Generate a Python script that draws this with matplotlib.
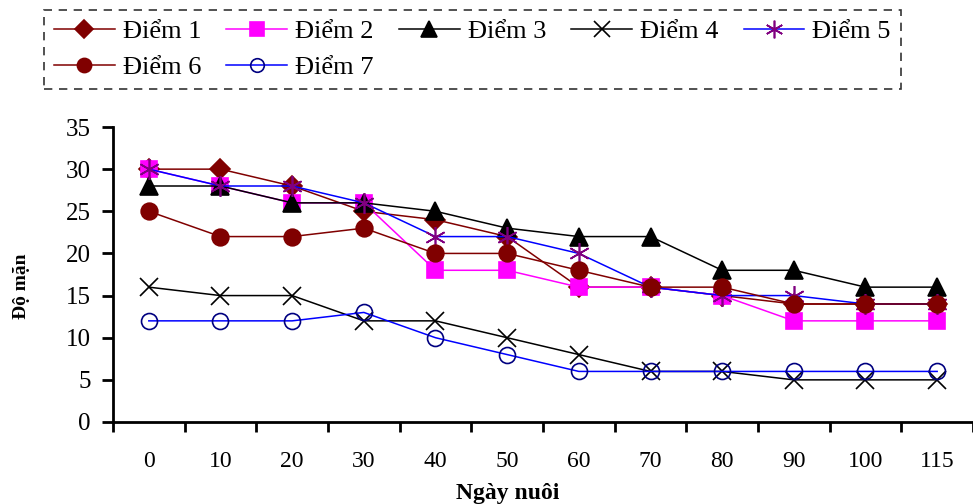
import numpy as np
import matplotlib.pyplot as plt

## Daten
ngay = ['0', '10', '20', '30', '40', '50', '60', '70', '80', '90', '100', '115']

diem_1 = [30, 30, 28, 25, 24, 22, 16, 16, 15, 14, 14, 14]
diem_2 = [30, 28, 26, 26, 18, 18, 16, 16, 15, 12, 12, 12]
diem_3 = [28, 28, 26, 26, 25, 23, 22, 22, 18, 18, 16, 16]
diem_4 = [16, 15, 15, 12, 12, 10, 8, 6, 6, 5, 5, 5]
diem_5 = [30, 28, 28, 26, 22, 22, 20, 16, 15, 15, 14, 14]
diem_6 = [25, 22, 22, 23, 20, 20, 18, 16, 16, 14, 14, 14]
diem_7 = [12, 12, 12, 13, 10, 8, 6, 6, 6, 6, 6, 6]

plt.rcParams['font.family'] = ['Liberation Serif', 'DejaVu Serif']

fig = plt.figure(figsize=(9.73, 5.04), dpi=100)
W, H = 973, 504
ax = fig.add_axes([113 / W, (H - 422) / H, (973 - 113) / W, (422 - 127) / H])

x = np.arange(len(ngay))

# (data, label, line colour, marker, marker face, marker edge, size)
serien = [
    (diem_1, 'Điểm 1', '#800000', 'D', '#800000', '#800000', 10.5),
    (diem_2, 'Điểm 2', '#FF00FF', 's', '#FF00FF', '#FF00FF', 12),
    (diem_3, 'Điểm 3', 'black', '^', 'black', 'black', 13),
    (diem_4, 'Điểm 4', 'black', 'x', 'none', 'black', 13),
    (diem_5, 'Điểm 5', '#0000FF', (6, 2, 0), 'none', '#800080', 15),
    (diem_6, 'Điểm 6', '#800000', 'o', '#800000', '#800000', 12),
    (diem_7, 'Điểm 7', '#0000FF', 'o', 'none', '#000080', 11.5),
]

handles = []
for y, lab, c, m, mf, me, ms in serien:
    h, = ax.plot(x, y, color=c, lw=1.1, marker=m, markerfacecolor=mf,
                 markeredgecolor=me, markersize=ms, markeredgewidth=1.2,
                 label=lab, clip_on=False)
    handles.append(h)

ax.set_xlim(-0.5, 11.5)
ax.set_ylim(0, 35)
ax.set_yticks(np.arange(0, 36, 5))
ax.tick_params(axis='y', length=8, width=2, labelsize=18, pad=8)

# Kategorieachse: Striche zwischen den Kategorien
ax.set_xticks(np.arange(-0.5, 12, 1))
ax.set_xticklabels([])
ax.set_xticks(x, minor=True)
ax.set_xticklabels(ngay, minor=True)
ax.tick_params(axis='x', which='major', length=7, width=2)
ax.tick_params(axis='x', which='minor', length=0, labelsize=17, pad=21)

for s in ['top', 'right']:
    ax.spines[s].set_visible(False)
for s in ['left', 'bottom']:
    ax.spines[s].set_linewidth(2)

ax.set_xlabel('Ngày nuôi', fontsize=17, fontweight='bold')
ax.xaxis.set_label_coords((508 - 113) / 860, -(493 - 422) / 295)
ax.xaxis.label.set_va('center')
ax.set_ylabel('Độ mặn', fontsize=14, fontweight='bold')
ax.yaxis.set_label_coords(-(113 - 22) / 860, (422 - 286) / 295)
ax.yaxis.label.set_va('center')

order = [0, 5, 1, 6, 2, 3, 4]
leg = fig.legend([handles[i] for i in order], [serien[i][1] for i in order],
                 ncol=5, loc='upper left', bbox_to_anchor=(44 / W, 1 - 10 / H),
                 borderaxespad=0, fontsize=19, frameon=True, fancybox=False,
                 handlelength=2.3, handletextpad=0.3, columnspacing=0.96,
                 borderpad=0.38, labelspacing=0.45, markerscale=0.85)
leg.get_frame().set_edgecolor('black')
leg.get_frame().set_linestyle((0, (5, 4)))
leg.get_frame().set_linewidth(1.2)

plt.savefig('out.png', dpi=100)
